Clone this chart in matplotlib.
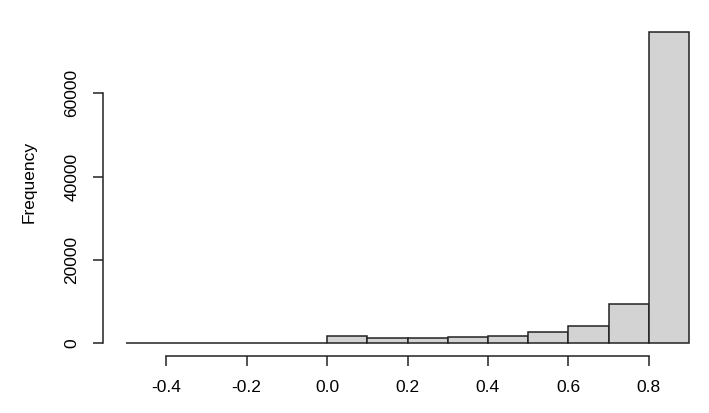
import matplotlib.pyplot as plt
import numpy as np

plt.rcParams['font.family'] = ['Liberation Sans', 'DejaVu Sans']

# histogram bins (left edges) and counts
bin_edges = [-0.5, -0.4, -0.3, -0.2, -0.1, 0.0, 0.1, 0.2, 0.3, 0.4, 0.5, 0.6, 0.7, 0.8, 0.9]
counts = [0, 0, 0, 0, 0, 1650, 1150, 1150, 1400, 1750, 2550, 4200, 9400, 74700]
xticks = [-0.4, -0.2, 0.0, 0.2, 0.4, 0.6, 0.8]
yticks = [0, 20000, 40000, 60000]

fig = plt.figure(figsize=(7.09, 4.13), dpi=100)
ax = fig.add_axes([126 / 709, 70 / 413, 563 / 709, 323 / 413])

edges = np.array(bin_edges)
bars = ax.bar(edges[:-1], counts, width=np.diff(edges), align='edge',
              color='#d3d3d3', edgecolor='#222222', linewidth=1.1)
for b in bars:
    b.set_clip_on(False)

ax.set_xlim(-0.5, 0.9)
ax.set_ylim(0, 77600)

for s in ['top', 'right']:
    ax.spines[s].set_visible(False)
ax.spines['left'].set_position(('outward', 16.5))
ax.spines['bottom'].set_position(('outward', 9.0))
ax.spines['left'].set_bounds(0, 60000)
ax.spines['bottom'].set_bounds(-0.4, 0.8)
for s in ['left', 'bottom']:
    ax.spines[s].set_color('#222222')
    ax.spines[s].set_linewidth(1.1)

ax.set_xticks(xticks)
ax.set_xticklabels(['%.1f' % v for v in xticks])
ax.set_yticks(yticks)
ax.set_yticklabels([str(v) for v in yticks], rotation=90, va='center')
ax.tick_params(axis='both', length=7, width=1.1, color='#222222',
               labelsize=12.5)
ax.tick_params(axis='x', pad=11)
ax.tick_params(axis='y', pad=10)
ax.set_ylabel('Frequency', fontsize=12.5, labelpad=20)

plt.savefig('out.png', dpi=100)
